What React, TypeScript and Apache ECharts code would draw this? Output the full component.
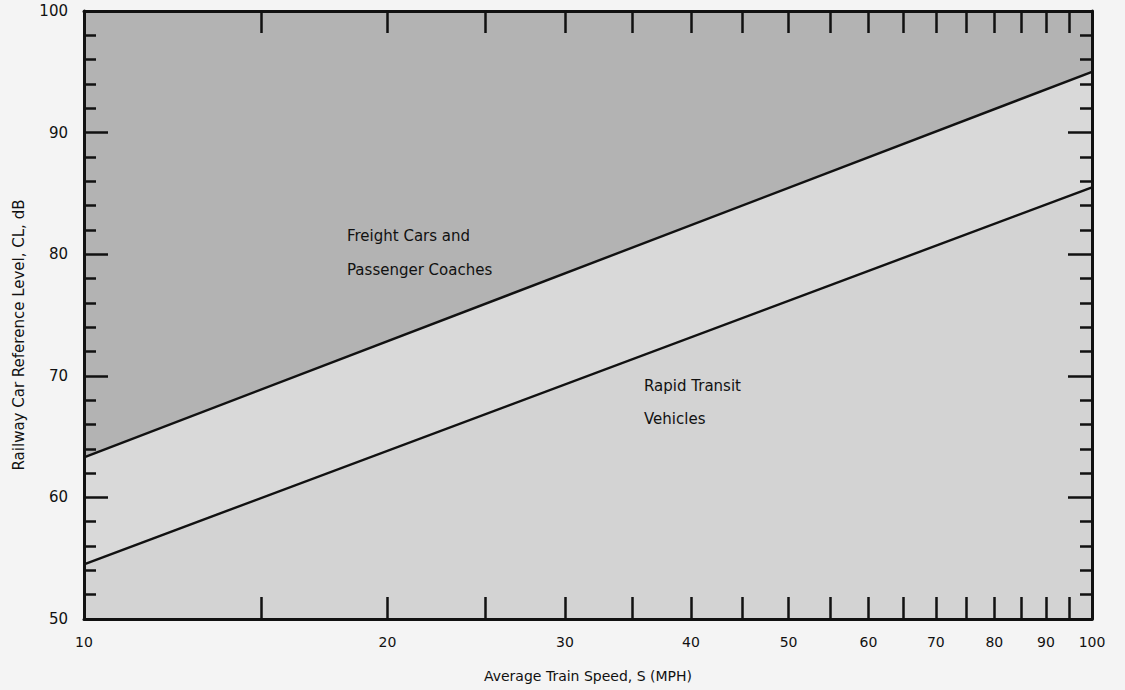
import React, { useEffect, useRef } from "react";
import * as echarts from "echarts";

// Average train speed (MPH) at the ends of each reference line
const speeds = [10, 100];
// Reference level CL (dB) for freight cars / passenger coaches
const freightLevels = [63.3, 95];
// Reference level CL (dB) for rapid transit vehicles
const transitLevels = [54.5, 85.5];

// Tick marks and labels on the logarithmic speed axis
const speedTicks = [15, 20, 25, 30, 35, 40, 45, 50, 55, 60, 65, 70, 75, 80, 85, 90, 95];
const speedLabels = [10, 20, 30, 40, 50, 60, 70, 80, 90, 100];

const FONT = "'DejaVu Sans', 'Liberation Sans', Arial, sans-serif";
const INK = "#111";

export default function App() {
  const ref = useRef<HTMLDivElement>(null);

  useEffect(() => {
    if (!ref.current) return;
    const chart = echarts.init(ref.current, null, { renderer: "svg" });

    const xBase = {
      type: "log" as const,
      logBase: 10,
      min: 10,
      max: 100,
      z: 10,
      axisLine: { show: true, onZero: false, lineStyle: { color: INK, width: 3 } },
      axisTick: {
        show: true,
        inside: true,
        length: 22,
        customValues: speedTicks,
        lineStyle: { color: INK, width: 2.5 },
      },
      splitLine: { show: false },
      minorTick: { show: false },
    };

    const yBase = {
      type: "value" as const,
      min: 50,
      max: 100,
      interval: 10,
      z: 10,
      axisLine: { show: true, onZero: false, lineStyle: { color: INK, width: 3 } },
      axisTick: { show: true, inside: true, length: 24, lineStyle: { color: INK, width: 2.5 } },
      minorTick: { show: true, splitNumber: 5, length: 12, lineStyle: { color: INK, width: 2.5 } },
      splitLine: { show: false },
    };

    chart.setOption({
      animation: false,
      backgroundColor: "#f4f4f4",
      grid: {
        left: 84,
        right: 33,
        top: 11,
        bottom: 71,
        show: true,
        backgroundColor: "#d3d3d3",
        borderWidth: 0,
      },
      xAxis: [
        {
          ...xBase,
          position: "bottom",
          name: "Average Train Speed, S (MPH)",
          nameLocation: "middle",
          nameGap: 50,
          nameTextStyle: { fontFamily: FONT, fontSize: 14, color: INK },
          axisLabel: {
            show: true,
            customValues: speedLabels,
            margin: 16,
            fontFamily: FONT,
            fontSize: 14,
            color: INK,
          },
        },
        {
          ...xBase,
          position: "top",
          axisLabel: { show: false },
        },
      ],
      yAxis: [
        {
          ...yBase,
          position: "left",
          axisLabel: { show: true, margin: 16, fontFamily: FONT, fontSize: 15, color: INK },
        },
        {
          ...yBase,
          position: "right",
          axisLabel: { show: false },
        },
      ],
      series: [
        {
          name: "Rapid Transit Vehicles",
          type: "line",
          xAxisIndex: 0,
          yAxisIndex: 0,
          data: speeds.map((s, i) => [s, transitLevels[i]]),
          symbol: "none",
          lineStyle: { color: INK, width: 2.4 },
          areaStyle: { origin: "end", color: "#d9d9d9", opacity: 1 },
          z: 2,
        },
        {
          name: "Freight Cars and Passenger Coaches",
          type: "line",
          xAxisIndex: 0,
          yAxisIndex: 0,
          data: speeds.map((s, i) => [s, freightLevels[i]]),
          symbol: "none",
          lineStyle: { color: INK, width: 2.4 },
          areaStyle: { origin: "end", color: "#b3b3b3", opacity: 1 },
          z: 3,
        },
      ],
      graphic: [
        {
          type: "text",
          x: 19,
          y: 335,
          rotation: Math.PI / 2,
          style: {
            text: "Railway Car Reference Level, CL, dB",
            fontFamily: FONT,
            fontSize: 15,
            fill: INK,
            align: "center",
            verticalAlign: "middle",
          },
          z: 10,
        },
        {
          type: "text",
          left: 347,
          top: 228,
          style: { text: "Freight Cars and", fontFamily: FONT, fontSize: 15, fill: INK },
          z: 10,
        },
        {
          type: "text",
          left: 347,
          top: 262,
          style: { text: "Passenger Coaches", fontFamily: FONT, fontSize: 15, fill: INK },
          z: 10,
        },
        {
          type: "text",
          left: 644,
          top: 378,
          style: { text: "Rapid Transit", fontFamily: FONT, fontSize: 15, fill: INK },
          z: 10,
        },
        {
          type: "text",
          left: 644,
          top: 411,
          style: { text: "Vehicles", fontFamily: FONT, fontSize: 15, fill: INK },
          z: 10,
        },
      ],
    });

    return () => chart.dispose();
  }, []);

  return (
    <div
      ref={ref}
      style={{ position: "fixed", left: 0, top: 0, width: 1125, height: 690 }}
    />
  );
}
